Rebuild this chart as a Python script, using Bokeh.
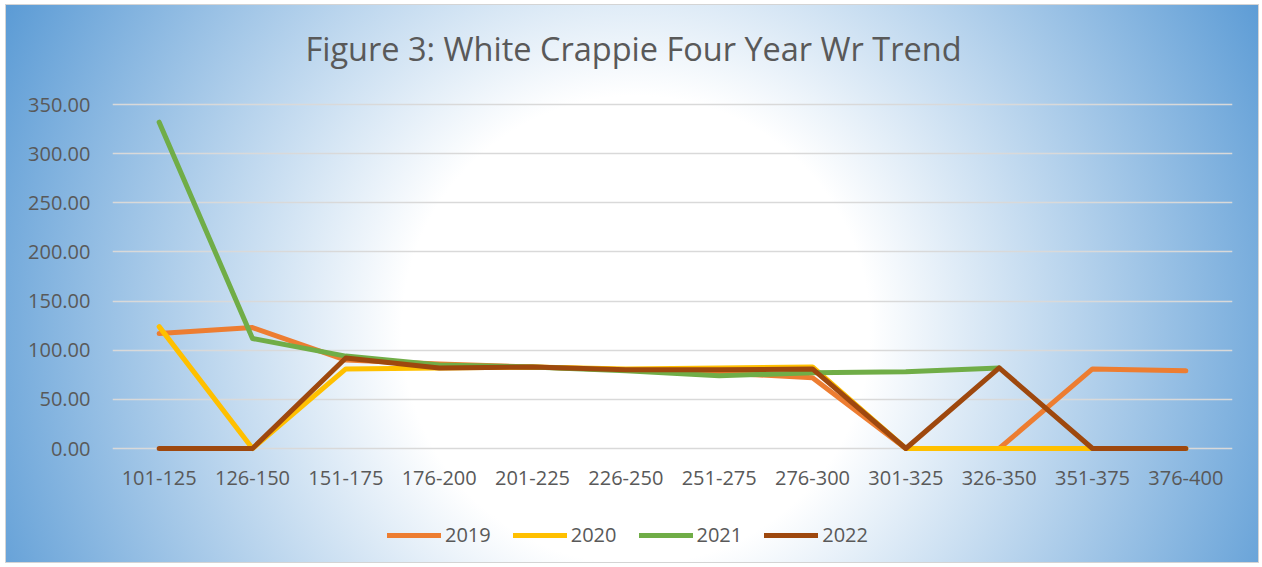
import math
from bokeh.plotting import figure
from bokeh.models import (FactorRange, Range1d, FixedTicker, NumeralTickFormatter,
                          Legend, LegendItem, Label)
from bokeh.embed import file_html
from bokeh.resources import INLINE

categories = ["101-125", "126-150", "151-175", "176-200", "201-225", "226-250",
              "251-275", "276-300", "301-325", "326-350", "351-375", "376-400"]
nan = math.nan
wr_2019 = [117, 123, 90, 86, 83, 80, 77, 72, 0, 0, 81, 79]
wr_2020 = [124, 0, 81, 82, 83, 81, 82, 83, 0, 0, 0, 0]
wr_2021 = [332, 112, 94, 85, 83, 79, 74, 77, 78, 82, nan, nan]
wr_2022 = [0, 0, 92, 82, 83, 80, 80, 81, 0, 82, 0, 0]
series_names = ["2019", "2020", "2021", "2022"]
y_ticks = [0, 50, 100, 150, 200, 250, 300, 350]
title_text = "Figure 3: White Crappie Four Year Wr Trend"

colors = ["#ED7D31", "#FFC000", "#70AD47", "#9E480E"]
text_color = "#595959"
font = "Open Sans"

# layout: pixels per value unit, frame extends above/below the 0-350 band
scale = 344.0 / 350.0
frame_h = 554
y_top = 350 + 96 / scale
y_bot = y_top - frame_h / scale

p = figure(frame_width=1120, frame_height=frame_h,
           x_range=FactorRange(factors=categories, range_padding=0),
           y_range=Range1d(y_bot, y_top), output_backend="svg", toolbar_location=None,
           min_border_left=106, min_border_right=26, min_border_top=3, min_border_bottom=0)

p.styles = {
    "background-image": "radial-gradient(circle 709px at 630px 325px, #ffffff 0%, #ffffff 33%, #5b9bd5 100%)",
    "outline": "1px solid #d4d4d4",
    "margin-left": "6px",
    "margin-top": "5px",
}
p.background_fill_alpha = 0
p.border_fill_alpha = 0
p.outline_line_color = None

renderers = []
for vals, c in zip([wr_2019, wr_2020, wr_2021, wr_2022], colors):
    r = p.line(categories, vals, line_color=c, line_width=5, line_join="round", line_cap="round")
    renderers.append(r)

p.xgrid.grid_line_color = None
p.ygrid.grid_line_color = "#D9D9D9"
p.ygrid.grid_line_width = 1.5

p.yaxis.ticker = FixedTicker(ticks=y_ticks)
p.yaxis.formatter = NumeralTickFormatter(format="0.00")
for ax in (p.xaxis[0], p.yaxis[0]):
    ax.axis_line_color = None
    ax.major_tick_line_color = None
    ax.minor_tick_line_color = None
    ax.major_tick_out = 0
    ax.major_tick_in = 0
    ax.minor_tick_out = 0
    ax.major_label_text_font = font
    ax.major_label_text_font_size = "20px"
    ax.major_label_text_color = text_color
p.yaxis.major_label_standoff = 22
p.xaxis.fixed_location = 0
p.xaxis.major_label_standoff = 22

title = Label(x=(633 - 112) / (1120 / len(categories)), y=350 + 56 / scale,
              text=title_text, text_align="center", text_baseline="middle",
              text_font=font, text_font_size="32.5px", text_color=text_color)
p.add_layout(title)

legend = Legend(items=[LegendItem(label=n, renderers=[r]) for n, r in zip(series_names, renderers)],
                orientation="horizontal", location=(275, 14))
legend.background_fill_alpha = 0
legend.border_line_color = None
legend.label_text_font = font
legend.label_text_font_size = "20px"
legend.label_text_color = text_color
legend.glyph_width = 54
legend.glyph_height = 20
legend.label_standoff = 4
legend.spacing = 22
legend.padding = 4
legend.margin = 0
p.add_layout(legend, "center")

open("out.html", "w").write(file_html(p, INLINE))
